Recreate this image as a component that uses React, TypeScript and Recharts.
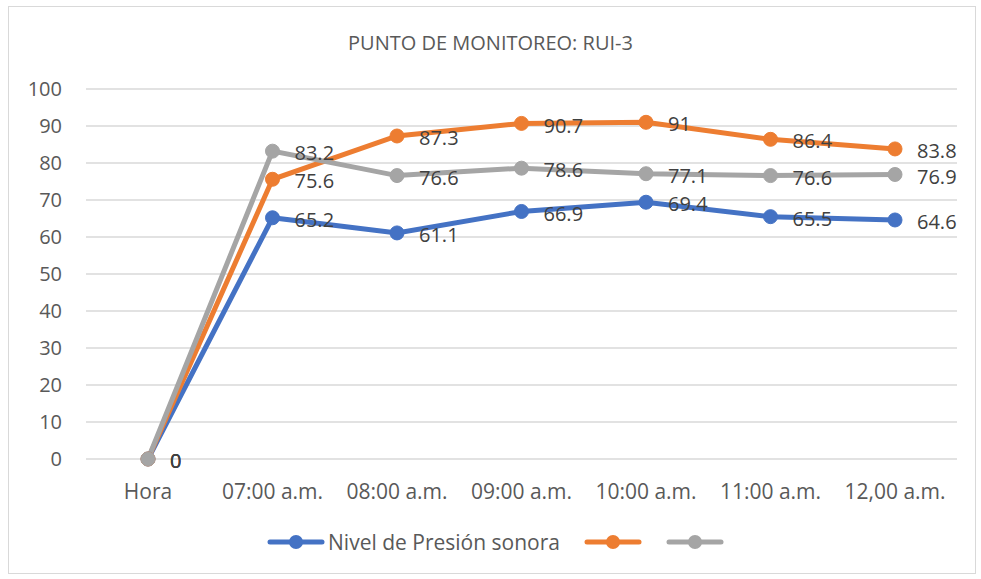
import { LineChart, Line, XAxis, YAxis, CartesianGrid, LabelList } from 'recharts'

const HOURS = ['Hora', '07:00 a.m.', '08:00 a.m.', '09:00 a.m.', '10:00 a.m.', '11:00 a.m.', '12,00 a.m.']
const NIVEL = [0, 65.2, 61.1, 66.9, 69.4, 65.5, 64.6]
const SERIE_2 = [0, 75.6, 87.3, 90.7, 91, 86.4, 83.8]
const SERIE_3 = [0, 83.2, 76.6, 78.6, 77.1, 76.6, 76.9]
const Y_TICKS = [0, 10, 20, 30, 40, 50, 60, 70, 80, 90, 100]

const FONT = '"Open Sans", "Noto Sans", sans-serif'
const BLUE = '#4472C4'
const ORANGE = '#ED7D31'
const GRAY = '#A5A5A5'

const data = HOURS.map((h, i) => ({
  hora: h,
  nivel: NIVEL[i],
  s2: SERIE_2[i],
  s3: SERIE_3[i],
}))

const legendItems = [
  { color: BLUE, label: 'Nivel de Presión sonora' },
  { color: ORANGE, label: '' },
  { color: GRAY, label: '' },
]

function LegendBox() {
  return (
    <div
      style={{
        display: 'flex',
        justifyContent: 'center',
        alignItems: 'center',
        gap: 24,
        paddingLeft: 10,
        fontFamily: FONT,
      }}
    >
      {legendItems.map((it, i) => (
        <div key={i} style={{ display: 'flex', alignItems: 'center' }}>
          <svg width={58} height={16}>
            <line x1={3} y1={8} x2={55} y2={8} stroke={it.color} strokeWidth={5} strokeLinecap="round" />
            <circle cx={29} cy={8} r={7} fill={it.color} />
          </svg>
          {it.label && <span style={{ fontSize: 21, color: '#595959', marginLeft: 3 }}>{it.label}</span>}
        </div>
      ))}
    </div>
  )
}

export default function App() {
  const labelStyle = { fontSize: 20, fill: '#404040', fontFamily: FONT }
  return (
    <div style={{ position: 'absolute', left: 0, top: 0, width: 981, height: 579, background: '#fff' }}>
      <div
        style={{
          position: 'absolute',
          left: 8,
          top: 6,
          width: 968,
          height: 568,
          border: '1px solid #d9d9d9',
          boxSizing: 'border-box',
        }}
      />
      <div
        style={{
          position: 'absolute',
          left: 0,
          width: 981,
          top: 29,
          textAlign: 'center',
          fontFamily: FONT,
          fontSize: 20,
          color: '#595959',
        }}
      >
        PUNTO DE MONITOREO: RUI-3
      </div>
      <div style={{ position: 'absolute', left: 0, top: 0 }}>
        <LineChart width={981} height={579} data={data} margin={{ top: 89, right: 24, bottom: 90, left: 0 }}>
          <CartesianGrid vertical={false} stroke="#d9d9d9" strokeWidth={1.5} />
          <XAxis
            dataKey="hora"
            height={30}
            padding={{ left: 62, right: 62 }}
            axisLine={false}
            tickLine={false}
            tickSize={0}
            tickMargin={25}
            interval={0}
            tick={{ fontSize: 21, fill: '#595959', fontFamily: FONT }}
          />
          <YAxis
            width={86}
            domain={[0, 100]}
            ticks={Y_TICKS}
            axisLine={false}
            tickLine={false}
            tickSize={0}
            tickMargin={24}
            tick={{ fontSize: 20, fill: '#595959', fontFamily: FONT }}
          />
          <Line
            dataKey="nivel"
            stroke={BLUE}
            strokeWidth={5}
            dot={{ r: 7, fill: BLUE, stroke: BLUE, strokeWidth: 1 }}
            isAnimationActive={false}
          >
            <LabelList dataKey="nivel" position="right" offset={22} dy={2} style={labelStyle} />
          </Line>
          <Line
            dataKey="s2"
            stroke={ORANGE}
            strokeWidth={5}
            dot={{ r: 7, fill: ORANGE, stroke: ORANGE, strokeWidth: 1 }}
            isAnimationActive={false}
          >
            <LabelList dataKey="s2" position="right" offset={22} dy={2} style={labelStyle} />
          </Line>
          <Line
            dataKey="s3"
            stroke={GRAY}
            strokeWidth={5}
            dot={{ r: 7, fill: GRAY, stroke: GRAY, strokeWidth: 1 }}
            isAnimationActive={false}
          >
            <LabelList dataKey="s3" position="right" offset={22} dy={2} style={labelStyle} />
          </Line>
        </LineChart>
      </div>
      <div style={{ position: 'absolute', left: 0, width: 981, top: 528 }}>
        <LegendBox />
      </div>
    </div>
  )
}
